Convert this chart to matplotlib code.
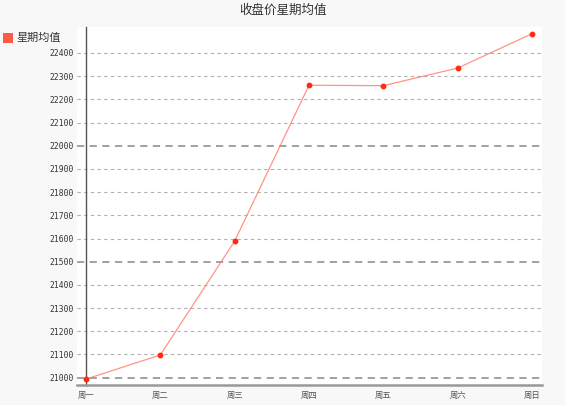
import matplotlib
matplotlib.use("Agg")
import matplotlib.pyplot as plt
from matplotlib.patches import Rectangle

plt.rcParams['font.family'] = ['Noto Sans CJK SC', 'DejaVu Sans']

days = ["周一", "周二", "周三", "周四", "周五", "周六", "周日"]
avg_close = [20994, 21098, 21589, 22261, 22259, 22335, 22483]
y_ticks = list(range(21000, 22401, 100))
title = "收盘价星期均值"
series_name = "星期均值"

W, H = 565, 405
fig = plt.figure(figsize=(W / 100, H / 100), dpi=100, facecolor="#f8f8f8")
ax = fig.add_axes([77 / W, 1 - 385 / H, (542 - 77) / W, (385 - 27) / H])
ax.set_facecolor("white")

x = list(range(len(days)))
ax.set_xlim(-0.121, 6.134)
ax.set_ylim(20968.5, 22512)

for v in y_ticks:
    if v % 500 == 0:
        ax.axhline(v, color="#9a9a9a", lw=1.3, dashes=(4, 3), zorder=1)
    else:
        ax.axhline(v, color="#b0b0b0", lw=0.8, dashes=(3, 3), zorder=1)

ax.plot(x, avg_close, color="#ff7a66", lw=0.9, alpha=0.8, zorder=3)
ax.plot(x, avg_close, ls="none", marker="o", ms=3.2, color="#ff2a10", zorder=4)

for s in ["top", "right"]:
    ax.spines[s].set_visible(False)
ax.spines["left"].set_position(("data", 0))
ax.spines["left"].set_color("#555555")
ax.spines["left"].set_linewidth(1.0)
ax.spines["bottom"].set_color("#999999")
ax.spines["bottom"].set_linewidth(1.8)

ax.set_yticks(y_ticks)
ax.set_yticklabels([str(v) for v in y_ticks], family="DejaVu Sans Mono", fontsize=5.8, color="#333333")
ax.set_xticks(x)
ax.set_xticklabels(days, fontsize=6, color="#555555")
ax.tick_params(axis="y", length=0, pad=2.5 + 9 * 0.72)
ax.tick_params(axis="x", length=0, pad=4)
# shift y labels: labels anchored relative to spine at data 0 -> handle via transform
for lbl in ax.get_yticklabels():
    pass

fig.text(0.5, 1 - 10 / H, title, ha="center", va="center", fontsize=9, color="#333333")
fig.add_artist(Rectangle((3 / W, 1 - 43 / H), 10 / W, 10 / H, transform=fig.transFigure,
                         facecolor="#ff5a45", edgecolor="none"))
fig.text(16 / W, 1 - 38 / H, series_name, ha="left", va="center", fontsize=8, color="#333333")

fig.savefig("out.png", dpi=100, facecolor=fig.get_facecolor())
